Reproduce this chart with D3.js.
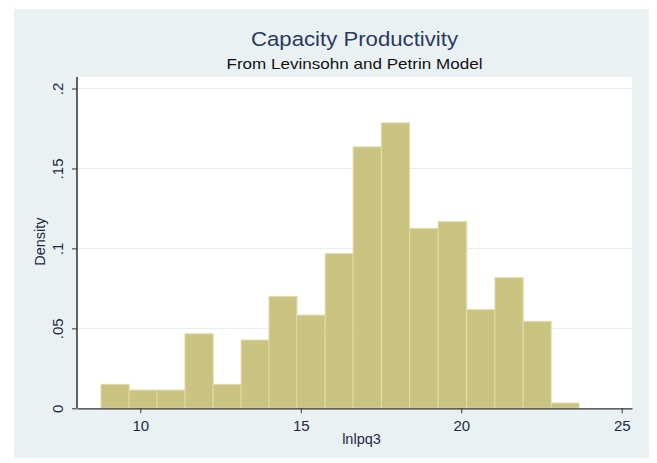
<!DOCTYPE html>
<html>
<head>
<meta charset="utf-8">
<script src="https://cdn.jsdelivr.net/npm/d3@7"></script>
<style>
  body { margin: 0; background: #ffffff; }
  svg { display: block; font-family: "Liberation Sans", Arial, sans-serif; }
</style>
</head>
<body>
<div id="chart"></div>
<script>
// histogram of lnlpq3
var binEdges = [8.775, 9.65, 10.52, 11.39, 12.27, 13.14, 14.01, 14.88, 15.76, 16.63,
                17.51, 18.39, 19.28, 20.17, 21.05, 21.93, 22.80, 23.67];
var density = [0.0150, 0.0114, 0.0114, 0.0466, 0.0150, 0.0427, 0.0700, 0.0583, 0.0967,
               0.1635, 0.1785, 0.1125, 0.1167, 0.0617, 0.0817, 0.0544, 0.0033];
var xTicks = [10, 15, 20, 25];
var yTicks = [0, 0.05, 0.1, 0.15, 0.2];
var yTickLabels = ["0", ".05", ".1", ".15", ".2"];

var W = 657, H = 463;
var plot = {left: 77, right: 632, top: 77, bottom: 408.3};

var svg = d3.select("#chart").append("svg")
    .attr("width", W)
    .attr("height", H);

// graph region
svg.append("rect")
    .attr("x", 14).attr("y", 9)
    .attr("width", 635).attr("height", 449)
    .attr("fill", "#e9f1f3");

// plot region
svg.append("rect")
    .attr("x", plot.left).attr("y", plot.top)
    .attr("width", plot.right - plot.left).attr("height", plot.bottom - plot.top)
    .attr("fill", "#ffffff");

var x = d3.scaleLinear().domain([8.027, 25.32]).range([plot.left, plot.right]);
var y = d3.scaleLinear().domain([0, 0.2072]).range([plot.bottom, plot.top]);

// grid lines
svg.selectAll("line.grid")
    .data(yTicks.slice(1))
    .enter()
    .append("line")
    .attr("class", "grid")
    .attr("x1", plot.left).attr("x2", plot.right)
    .attr("y1", function(d) { return y(d); })
    .attr("y2", function(d) { return y(d); })
    .attr("stroke", "#e4edf2")
    .attr("stroke-width", 1);

// bars
svg.selectAll("rect.bar")
    .data(density)
    .enter()
    .append("rect")
    .attr("class", "bar")
    .attr("x", function(d, i) { return x(binEdges[i]); })
    .attr("width", function(d, i) { return x(binEdges[i + 1]) - x(binEdges[i]); })
    .attr("y", function(d) { return y(d); })
    .attr("height", function(d) { return y(0) - y(d); })
    .attr("fill", "#cac381")
    .attr("stroke", "#e0dba8")
    .attr("stroke-width", 1);

// x axis
var xAxis = d3.axisBottom(x).tickValues(xTicks).tickSize(5).tickSizeOuter(0);
var gx = svg.append("g")
    .attr("transform", "translate(0," + plot.bottom + ")")
    .call(xAxis);
gx.select(".domain").attr("stroke", "#333").attr("stroke-width", 1.3);
gx.selectAll(".tick line").attr("stroke", "#333");
gx.selectAll(".tick text")
    .attr("fill", "#1e2a44")
    .attr("font-size", 15)
    .attr("dy", "0.71em")
    .attr("y", 12);

// y axis
var yAxis = d3.axisLeft(y).tickValues(yTicks).tickSize(5).tickSizeOuter(0)
    .tickFormat(function(d, i) { return yTickLabels[i]; });
var gy = svg.append("g")
    .attr("transform", "translate(" + plot.left + ",0)")
    .call(yAxis);
gy.select(".domain").attr("stroke", "#111").attr("stroke-width", 1.3)
    .attr("d", "M0," + plot.top + "V" + plot.bottom);
gy.selectAll(".tick line").attr("stroke", "#333");
gy.selectAll(".tick text")
    .attr("fill", "#1e2a44")
    .attr("font-size", 15)
    .attr("x", 0).attr("dy", 0)
    .attr("text-anchor", "middle")
    .attr("transform", "translate(-14,0) rotate(-90)");

// axis titles
svg.append("text")
    .attr("x", (plot.left + plot.right) / 2 + 7)
    .attr("y", 444)
    .attr("text-anchor", "middle")
    .attr("font-size", 14.5)
    .attr("fill", "#1e2a44")
    .text("lnlpq3");

svg.append("text")
    .attr("transform", "translate(45," + ((plot.top + plot.bottom) / 2 - 1) + ") rotate(-90)")
    .attr("text-anchor", "middle")
    .attr("font-size", 14.5)
    .attr("fill", "#1e2a44")
    .text("Density");

// titles
svg.append("text")
    .attr("x", (plot.left + plot.right) / 2)
    .attr("y", 46)
    .attr("text-anchor", "middle")
    .attr("font-size", 20.5)
    .attr("textLength", 207)
    .attr("lengthAdjust", "spacingAndGlyphs")
    .attr("fill", "#2a3a5c")
    .text("Capacity Productivity");

svg.append("text")
    .attr("x", (plot.left + plot.right) / 2)
    .attr("y", 69)
    .attr("text-anchor", "middle")
    .attr("font-size", 15)
    .attr("textLength", 256)
    .attr("lengthAdjust", "spacingAndGlyphs")
    .attr("fill", "#111")
    .text("From Levinsohn and Petrin Model");
</script>
</body>
</html>
